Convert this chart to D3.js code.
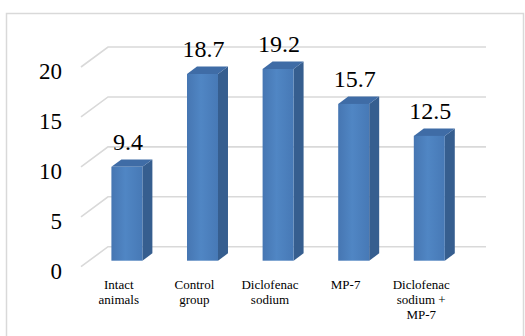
<!DOCTYPE html>
<html>
<head>
<meta charset="utf-8">
<script src="https://cdn.jsdelivr.net/npm/d3@7"></script>
<style>
  html, body { margin: 0; padding: 0; background: #fff; }
  svg { display: block; }
</style>
</head>
<body>
<svg id="chart" width="525" height="336"></svg>
<script>
// Chart data
const categories = [
  ["Intact", "animals"],
  ["Control", "group"],
  ["Diclofenac", "sodium"],
  ["MP-7"],
  ["Diclofenac", "sodium +", "MP-7"]
];
const values = [9.4, 18.7, 19.2, 15.7, 12.5];
const yTicks = [0, 5, 10, 15, 20];

const FONT = "Liberation Serif";

const svg = d3.select("#chart");

// Outer frame
svg.append("rect")
  .attr("x", 6.5).attr("y", 13.5)
  .attr("width", 517).attr("height", 340)
  .attr("fill", "#fff").attr("stroke", "#d9d9d9").attr("stroke-width", 1.5);

// Back-wall scales; the floor depth is drawn as an oblique offset
const wallLeft = 108, wallRight = 486;
const depthDX = -27, depthDY = 20;
const frontFrac = 0.7, backFrac = 0.33;

const y = d3.scaleLinear().domain([0, 20]).range([246.7, 47]);
const x = d3.scaleBand()
  .domain(d3.range(categories.length))
  .range([wallLeft, wallRight])
  .paddingInner(0.59)
  .paddingOuter(0.295);

// Gridlines: short diagonal on the floor side, then across the back wall
const grid = svg.append("g");
yTicks.forEach(t => {
  const yy = y(t);
  grid.append("path")
    .attr("d", `M${wallLeft + depthDX},${yy + depthDY} L${wallLeft},${yy} L${wallRight},${yy}`)
    .attr("fill", "none").attr("stroke", "#d9d9d9").attr("stroke-width", 1.6);
});

// Y tick labels
svg.append("g").selectAll("text")
  .data(yTicks).join("text")
  .attr("font-family", FONT)
  .attr("font-size", 23)
  .attr("fill", "#000")
  .attr("x", 62)
  .attr("y", d => y(d) + depthDY + 12)
  .attr("text-anchor", "end")
  .text(d => d);

// Gradient for front faces
const defs = svg.append("defs");
const grad = defs.append("linearGradient").attr("id", "frontGrad")
  .attr("x1", "0").attr("x2", "1").attr("y1", "0").attr("y2", "0");
grad.append("stop").attr("offset", "0%").attr("stop-color", "#4676b2");
grad.append("stop").attr("offset", "45%").attr("stop-color", "#5086c4");
grad.append("stop").attr("offset", "100%").attr("stop-color", "#4779b6");

// Bars
const sideDX = (frontFrac - backFrac) * -depthDX;   // shift toward back
const sideDY = (frontFrac - backFrac) * -depthDY;
const bars = svg.append("g");
const valueG = svg.append("g");
values.forEach((v, i) => {
  const x0 = x(i) + depthDX * frontFrac;
  const x1 = x0 + x.bandwidth();
  const yTop = y(v) + depthDY * frontFrac;
  const yBot = y(0) + depthDY * frontFrac;

  // side face
  bars.append("path")
    .attr("d", `M${x1},${yTop} L${x1 + sideDX},${yTop + sideDY} L${x1 + sideDX},${yBot + sideDY} L${x1},${yBot} Z`)
    .attr("fill", "#365e8f");
  // top face
  bars.append("path")
    .attr("d", `M${x0},${yTop} L${x0 + sideDX},${yTop + sideDY} L${x1 + sideDX},${yTop + sideDY} L${x1},${yTop} Z`)
    .attr("fill", "#3f6ca6");
  // front face
  bars.append("rect")
    .attr("x", x0).attr("y", yTop)
    .attr("width", x.bandwidth()).attr("height", yBot - yTop)
    .attr("fill", "url(#frontGrad)");

  // value label
  valueG.append("text")
    .attr("font-family", FONT)
    .attr("font-size", 24)
    .attr("fill", "#000")
    .attr("x", x0 + x.bandwidth() / 2 + 1)
    .attr("y", yTop - 17)
    .attr("text-anchor", "middle")
    .text(v.toFixed(1));
});

// Category labels on the front edge of the floor
const catG = svg.append("g");
categories.forEach((lines, i) => {
  const cx = x(i) + x.bandwidth() / 2 + depthDX;
  const t = catG.append("text")
    .attr("font-family", FONT)
    .attr("font-size", 13)
    .attr("fill", "#000")
    .attr("text-anchor", "middle");
  lines.forEach((ln, j) => {
    t.append("tspan").attr("x", cx).attr("y", 288.5 + j * 15).text(ln);
  });
});
</script>
</body>
</html>
